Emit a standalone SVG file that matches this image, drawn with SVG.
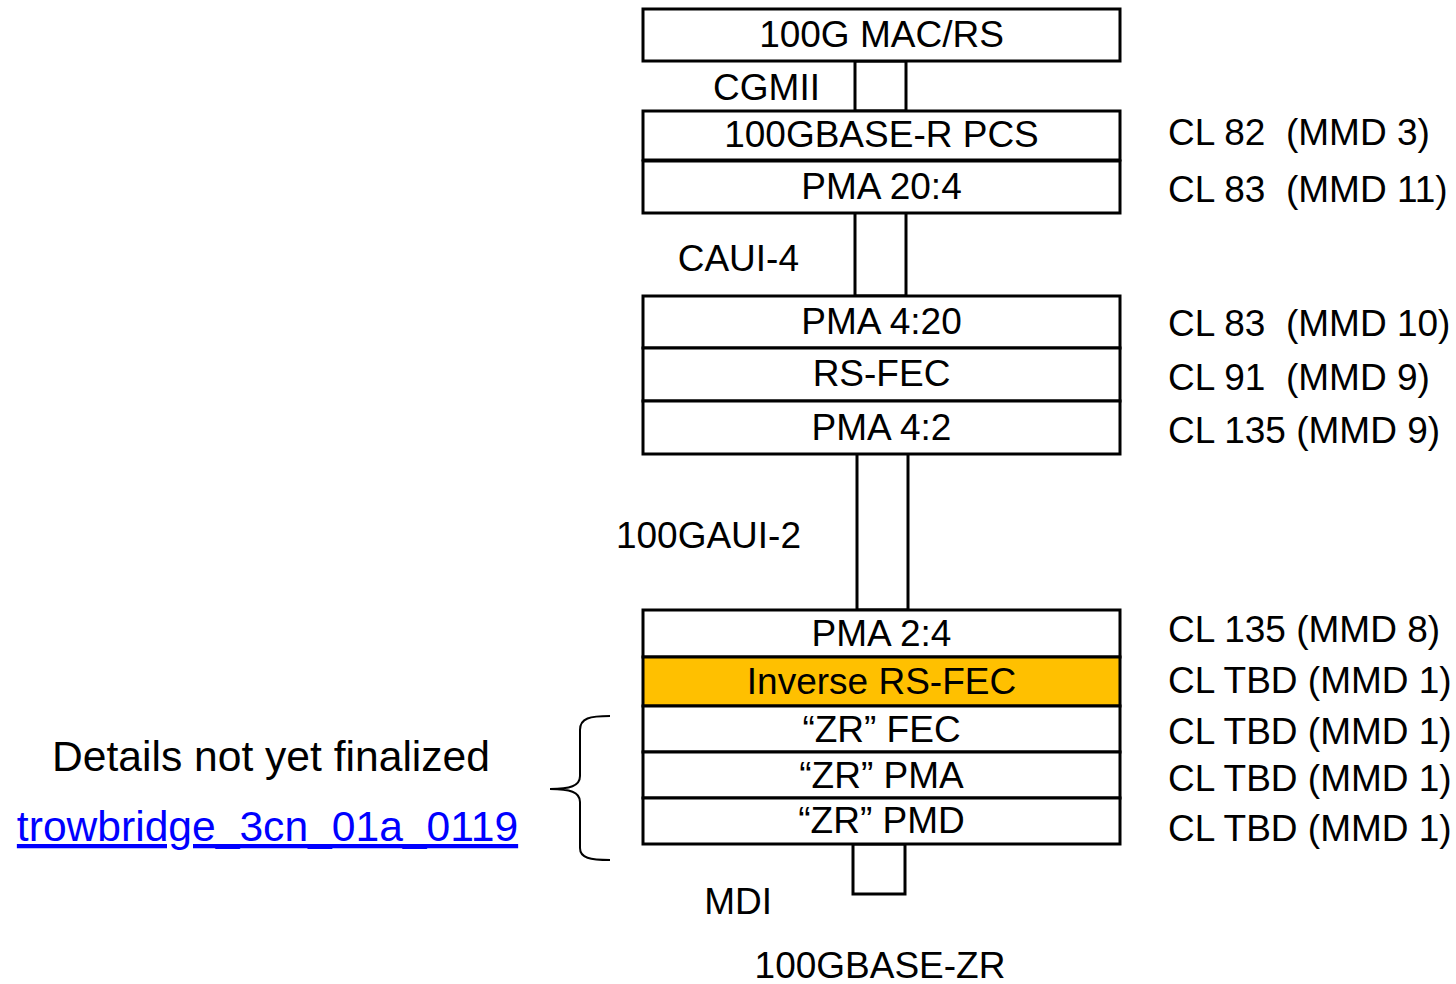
<svg xmlns="http://www.w3.org/2000/svg" width="1456" height="984" viewBox="0 0 1456 984">
<style>
.b{fill:#fff;stroke:#000;stroke-width:3}
.y{fill:#FFC000;stroke:#000;stroke-width:3}
.c{fill:#fff;stroke:#000;stroke-width:3}
text{font-family:"Liberation Sans",Arial,sans-serif;font-size:37px;fill:#000;white-space:pre}
.m{text-anchor:middle}
.big{font-size:42.6px}
.lk{fill:#0000FF;text-decoration:underline}
</style>
<rect width="1456" height="984" fill="#fff"/>
<g id="connectors">
<rect class="c" x="855" y="61" width="51" height="50"/>
<rect class="c" x="855" y="212" width="51" height="84"/>
<rect class="c" x="857" y="453" width="51" height="157"/>
<rect class="c" x="853" y="844" width="52" height="50"/>
</g>
<g id="mac"><rect class="b" x="643" y="9" width="477" height="52"/><text class="m" x="881.5" y="47">100G MAC/RS</text></g>
<g id="pcs"><rect class="b" x="643" y="111" width="477" height="49"/><text class="m" x="881.5" y="147">100GBASE-R PCS</text><text x="1168" y="145" xml:space="preserve">CL 82  (MMD 3)</text></g>
<g id="pma204"><rect class="b" x="643" y="161" width="477" height="52"/><text class="m" x="881.5" y="199">PMA 20:4</text><text x="1168" y="202" xml:space="preserve">CL 83  (MMD 11)</text></g>
<g id="pma420"><rect class="b" x="643" y="296" width="477" height="52"/><text class="m" x="881.5" y="334">PMA 4:20</text><text x="1168" y="336" xml:space="preserve">CL 83  (MMD 10)</text></g>
<g id="rsfec"><rect class="b" x="643" y="348" width="477" height="53"/><text class="m" x="881.5" y="386">RS-FEC</text><text x="1168" y="390" xml:space="preserve">CL 91  (MMD 9)</text></g>
<g id="pma42"><rect class="b" x="643" y="401" width="477" height="53"/><text class="m" x="881.5" y="440">PMA 4:2</text><text x="1168" y="443">CL 135 (MMD 9)</text></g>
<g id="pma24"><rect class="b" x="643" y="610" width="477" height="47"/><text class="m" x="881.5" y="646">PMA 2:4</text><text x="1168" y="642">CL 135 (MMD 8)</text></g>
<g id="invfec"><rect class="y" x="643" y="657" width="477" height="49"/><text class="m" x="881.5" y="694">Inverse RS-FEC</text><text x="1168" y="693">CL TBD (MMD 1)</text></g>
<g id="zrfec"><rect class="b" x="643" y="706" width="477" height="46"/><text class="m" x="881.5" y="742">“ZR” FEC</text><text x="1168" y="744">CL TBD (MMD 1)</text></g>
<g id="zrpma"><rect class="b" x="643" y="752" width="477" height="46"/><text class="m" x="881.5" y="788">“ZR” PMA</text><text x="1168" y="791">CL TBD (MMD 1)</text></g>
<g id="zrpmd"><rect class="b" x="643" y="798" width="477" height="46"/><text class="m" x="881.5" y="833">“ZR” PMD</text><text x="1168" y="841">CL TBD (MMD 1)</text></g>
<g id="labels">
<text x="820" y="100" text-anchor="end">CGMII</text>
<text x="799" y="271" text-anchor="end">CAUI-4</text>
<text x="801" y="548" text-anchor="end">100GAUI-2</text>
<text x="772" y="914" text-anchor="end">MDI</text>
<text class="m" x="880" y="978">100GBASE-ZR</text>
</g>
<g id="note">
<path d="M610,716 C590,716 580,718 580,730 L580,776 C580,786 570,789 550,789 C570,789 580,792 580,802 L580,848 C580,858 590,860 610,860" fill="none" stroke="#000" stroke-width="2"/>
<text class="m big" x="271" y="771">Details not yet finalized</text>
<text class="m big lk" x="267.5" y="841">trowbridge_3cn_01a_0119</text>
</g>
</svg>
